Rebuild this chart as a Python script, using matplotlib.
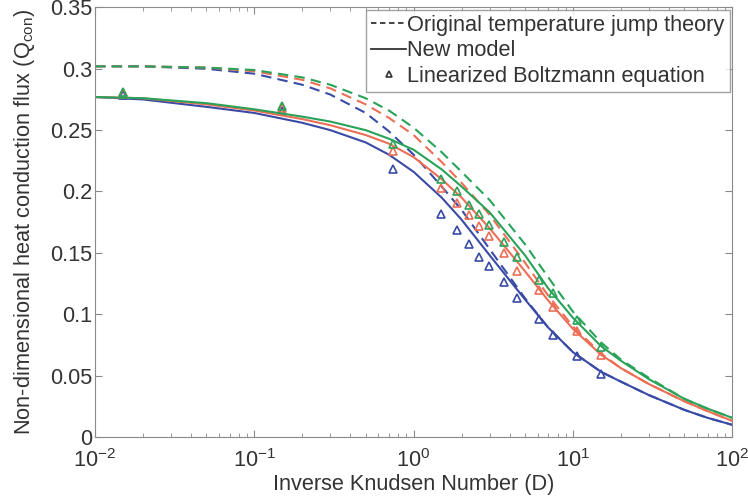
import matplotlib
matplotlib.use("Agg")
import matplotlib.pyplot as plt
from matplotlib.lines import Line2D

plt.rcParams['font.family'] = ['Liberation Sans', 'DejaVu Sans']
plt.rcParams['mathtext.default'] = 'regular'

# inverse Knudsen number grid for the curves
D = [0.01, 0.02, 0.05, 0.1, 0.2, 0.3, 0.5, 0.7, 1, 1.5, 2, 3, 5, 7, 10, 15, 20, 30, 50, 70, 100]

# new model (solid)
new_blue = [0.277, 0.275, 0.269, 0.264, 0.256, 0.250, 0.240, 0.230, 0.216, 0.195, 0.177, 0.148,
            0.112, 0.089, 0.069, 0.053, 0.045, 0.034, 0.022, 0.0155, 0.0098]
new_red = [0.277, 0.276, 0.271, 0.266, 0.259, 0.254, 0.246, 0.239, 0.228, 0.210, 0.195, 0.170,
           0.135, 0.111, 0.088, 0.067, 0.056, 0.043, 0.029, 0.021, 0.013]
new_green = [0.277, 0.276, 0.272, 0.267, 0.261, 0.257, 0.250, 0.243, 0.234, 0.218, 0.204, 0.183,
             0.148, 0.121, 0.097, 0.074, 0.062, 0.047, 0.031, 0.023, 0.0155]

# original temperature jump theory (dashed)
old_blue = [0.302, 0.302, 0.300, 0.296, 0.287, 0.279, 0.264, 0.249, 0.230, 0.204, 0.185, 0.153,
            0.113, 0.089, 0.069, 0.053, 0.045, 0.034, 0.022, 0.0155, 0.0098]
old_red = [0.302, 0.302, 0.301, 0.298, 0.291, 0.284, 0.271, 0.260, 0.246, 0.224, 0.207, 0.181,
           0.142, 0.115, 0.090, 0.068, 0.056, 0.043, 0.029, 0.021, 0.013]
old_green = [0.302, 0.302, 0.301, 0.299, 0.293, 0.287, 0.276, 0.266, 0.252, 0.232, 0.216, 0.193,
             0.157, 0.130, 0.102, 0.077, 0.063, 0.048, 0.031, 0.023, 0.0155]

# linearized Boltzmann equation (triangles)
D_lbe = [0.015, 0.15, 0.74, 1.49, 1.88, 2.23, 2.58, 2.98, 3.70, 4.47, 6.14, 7.51, 10.6, 15.0]
lbe_blue = [0.279, 0.266, 0.218, 0.182, 0.169, 0.157, 0.147, 0.139, 0.126, 0.113, 0.096, 0.083, 0.066, 0.051]
lbe_red = [0.280, 0.268, 0.233, 0.203, 0.191, 0.181, 0.172, 0.164, 0.150, 0.135, 0.120, 0.106, 0.086, 0.067]
lbe_green = [0.281, 0.270, 0.239, 0.210, 0.200, 0.189, 0.182, 0.173, 0.159, 0.147, 0.128, 0.117, 0.095, 0.073]

blue = '#3a4ba6'
red = '#ec6e55'
green = '#2aa35a'
grey = '#333333'
fs = 15.7

fig = plt.figure(figsize=(7.48, 4.97), dpi=100)
ax = fig.add_axes([0.127, 0.121, 0.852, 0.864])

for yn, yo, yl, c in [(new_blue, old_blue, lbe_blue, blue),
                      (new_red, old_red, lbe_red, red),
                      (new_green, old_green, lbe_green, green)]:
    ax.plot(D, yo, '--', color=c, lw=1.5, dashes=(5, 3))
    ax.plot(D, yn, '-', color=c, lw=1.5)
    ax.plot(D_lbe, yl, '^', color=c, mfc='none', ms=6, mew=1.2)

ax.set_xscale('log')
ax.set_xlim(0.01, 100)
ax.set_ylim(0, 0.35)
ax.set_yticks([0, 0.05, 0.1, 0.15, 0.2, 0.25, 0.3, 0.35])
ax.set_yticklabels(['0', '0.05', '0.1', '0.15', '0.2', '0.25', '0.3', '0.35'])

for s in ax.spines.values():
    s.set_color('#8a8a8a')
ax.tick_params(which='both', direction='in', top=True, right=True, colors='#8a8a8a',
               labelcolor=grey, labelsize=fs)
ax.tick_params(which='major', length=5)
ax.tick_params(which='minor', length=3)
ax.tick_params(axis='y', pad=2)
ax.tick_params(axis='x', pad=9)

ax.set_xlabel('Inverse Knudsen Number (D)', fontsize=fs, color=grey, labelpad=1)
ax.set_ylabel('Non-dimensional heat conduction flux (Q$_{con}$)', fontsize=fs, color=grey, labelpad=9)

handles = [Line2D([], [], color=grey, ls='--', lw=1.3, dashes=(3, 2)),
           Line2D([], [], color=grey, ls='-', lw=1.3),
           Line2D([], [], color=grey, ls='none', marker='^', mfc='none', ms=5, mew=1.2)]
labels = ['Original temperature jump theory', 'New model', 'Linearized Boltzmann equation']
leg = ax.legend(handles, labels, loc='upper right', fontsize=fs, frameon=True, fancybox=False,
                handlelength=1.6, handletextpad=0.05, borderpad=0.25, labelspacing=0.2,
                borderaxespad=0.1)
leg.get_frame().set_edgecolor('#8a8a8a')
leg.get_frame().set_linewidth(1.0)
for t in leg.get_texts():
    t.set_color(grey)

fig.savefig('out.png', dpi=100)
